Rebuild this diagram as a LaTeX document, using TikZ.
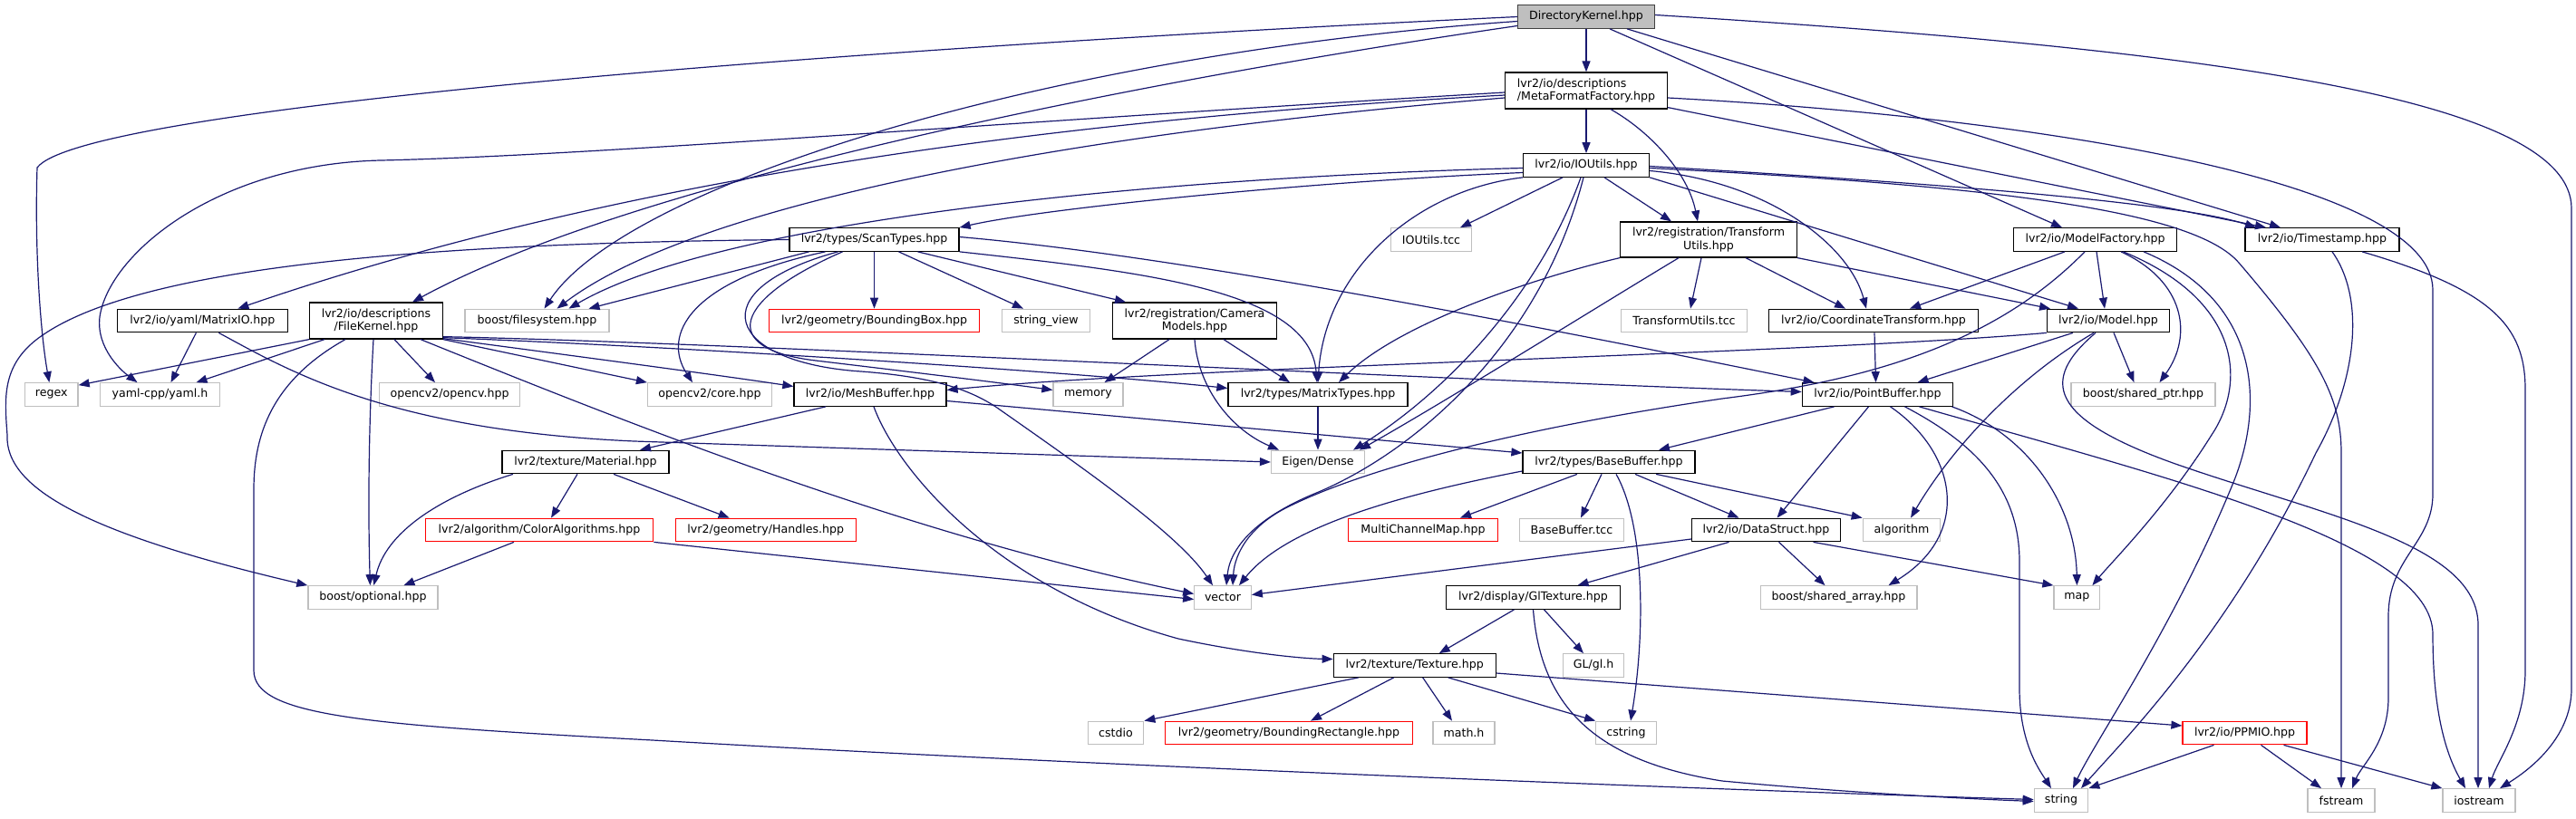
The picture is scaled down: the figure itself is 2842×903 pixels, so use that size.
\documentclass[tikz,border=0pt]{standalone}
\usepackage{fontspec}
\setmainfont{DejaVu Sans}
\usetikzlibrary{arrows.meta}
\definecolor{edgeblue}{HTML}{191970}
\definecolor{extgray}{HTML}{BFBFBF}
\definecolor{rootfill}{HTML}{BFBFBF}
\definecolor{rootline}{HTML}{404040}
\definecolor{missred}{HTML}{FF0000}
\tikzset{
  base/.style={rectangle, line width=1.25pt, inner sep=0pt, minimum height=25.5pt, align=center,
    font=\fontsize{12.6}{14.3}\selectfont, fill=white, text=black},
  blk/.style={base, draw=black},
  ext/.style={base, draw=extgray},
  missing/.style={base, draw=missred},
  root/.style={base, draw=rootline, fill=rootfill},
  two/.style={minimum height=40pt},
  conn/.style={draw=edgeblue, line width=1.2pt, -{Triangle[length=12pt,width=9pt]}}
}
\begin{document}
\begin{tikzpicture}[x=1pt,y=-1pt]
\useasboundingbox (0,0) rectangle (2842,903);
\fill[white] (0,0) rectangle (2842,903);
% row 0-3
\node[root, minimum width=151] (dk) at (1750,18.5) {DirectoryKernel.hpp};
\node[blk, two, minimum width=179, align=left] (mff) at (1750,100) {lvr2/io/descriptions\\/MetaFormatFactory.hpp};
\node[blk, minimum width=139] (iou) at (1750,182.5) {lvr2/io/IOUtils.hpp};
\node[blk, minimum width=187] (st) at (964.5,264.5) {lvr2/types/ScanTypes.hpp};
\node[ext, minimum width=89.5] (iotcc) at (1579,264.5) {IOUtils.tcc};
\node[blk, minimum width=195, minimum height=39] (tu) at (1885,264.5) {lvr2/registration/Transform\\Utils.hpp};
\node[blk, minimum width=180] (mf) at (2311.5,264.5) {lvr2/io/ModelFactory.hpp};
\node[blk, minimum width=170] (ts) at (2562,264.5) {lvr2/io/Timestamp.hpp};
% row 4
\node[blk, minimum width=188] (mio) at (223.4,354) {lvr2/io/yaml/MatrixIO.hpp};
\node[blk, two, minimum width=146.5] (fk) at (415,354) {lvr2/io/descriptions\\/FileKernel.hpp};
\node[ext, minimum width=159] (bfs) at (592.5,354) {boost/filesystem.hpp};
\node[missing, minimum width=232] (bbox) at (964.5,354) {lvr2/geometry/BoundingBox.hpp};
\node[ext, minimum width=97] (sv) at (1154,354) {string\_view};
\node[blk, two, minimum width=181] (cm) at (1318,354) {lvr2/registration/Camera\\Models.hpp};
\node[ext, minimum width=139.5] (tutcc) at (1858,354) {TransformUtils.tcc};
\node[blk, minimum width=231] (ct) at (2067,354) {lvr2/io/CoordinateTransform.hpp};
\node[blk, minimum width=135] (model) at (2326,354) {lvr2/io/Model.hpp};
% row 5
\node[ext, minimum width=58.5] (regex) at (56.8,435.5) {regex};
\node[ext, minimum width=131.7] (yaml) at (176.5,435.5) {yaml-cpp/yaml.h};
\node[ext, minimum width=154.5] (cv) at (496,435.5) {opencv2/opencv.hpp};
\node[ext, minimum width=137] (cvcore) at (783,435.5) {opencv2/core.hpp};
\node[blk, minimum width=168] (mb) at (960,435.5) {lvr2/io/MeshBuffer.hpp};
\node[ext, minimum width=77] (mem) at (1200.5,435.5) {memory};
\node[blk, minimum width=198] (mt) at (1454,435.5) {lvr2/types/MatrixTypes.hpp};
\node[blk, minimum width=166.4] (pb) at (2071.5,435.5) {lvr2/io/PointBuffer.hpp};
\node[ext, minimum width=159] (sp) at (2364.5,435.5) {boost/shared\_ptr.hpp};
% row 6
\node[blk, minimum width=184] (mat) at (646,510) {lvr2/texture/Material.hpp};
\node[ext, minimum width=103] (eigen) at (1454,510) {Eigen/Dense};
\node[blk, minimum width=190] (bb) at (1775,510) {lvr2/types/BaseBuffer.hpp};
% row 7
\node[missing, minimum width=251.5] (ca) at (595,585) {lvr2/algorithm/ColorAlgorithms.hpp};
\node[missing, minimum width=199] (ha) at (844.7,585) {lvr2/geometry/Handles.hpp};
\node[missing, minimum width=164.6] (mcm) at (1570,585) {MultiChannelMap.hpp};
\node[ext, minimum width=115] (bbtcc) at (1734,585) {BaseBuffer.tcc};
\node[blk, minimum width=164] (ds) at (1948.5,585) {lvr2/io/DataStruct.hpp};
\node[ext, minimum width=85.5] (alg) at (2098,585) {algorithm};
% row 8
\node[ext, minimum width=143] (bo) at (411.4,659.5) {boost/optional.hpp};
\node[ext, minimum width=62.5] (vec) at (1349,659.5) {vector};
\node[blk, minimum width=192] (gl) at (1691.5,659.5) {lvr2/display/GlTexture.hpp};
\node[ext, minimum width=172.7] (sa) at (2028.5,659.5) {boost/shared\_array.hpp};
\node[ext, minimum width=50.8] (map) at (2291.4,659.5) {map};
% row 9
\node[blk, minimum width=179] (tex) at (1560.7,734.5) {lvr2/texture/Texture.hpp};
\node[ext, minimum width=66.6] (glh) at (1758,734.5) {GL/gl.h};
% row 10
\node[ext, minimum width=61.5] (cstdio) at (1231,809) {cstdio};
\node[missing, minimum width=272.6] (br) at (1422,809) {lvr2/geometry/BoundingRectangle.hpp};
\node[ext, minimum width=68] (mh) at (1615,809) {math.h};
\node[ext, minimum width=66.6] (cs) at (1794,809) {cstring};
\node[missing, minimum width=137] (ppm) at (2476.5,809) {lvr2/io/PPMIO.hpp};
% row 11
\node[ext, minimum width=59.5] (str) at (2274,883.5) {string};
\node[ext, minimum width=74] (fs) at (2583,883.5) {fstream};
\node[ext, minimum width=80] (io) at (2735,883.5) {iostream};

% ---- edges from DirectoryKernel
\draw[conn] (dk) -- (mff);
\draw[conn] (dk.west) .. controls (900,55) and (90,120) .. (41,185) .. controls (38,280) and (45,370) .. (regex);
\draw[conn] ([yshift=-10]dk.west) .. controls (1250,90) and (700,200) .. ([xshift=40]fk.north);
\draw[conn] ([yshift=-5]dk.west) .. controls (1150,60) and (690,205) .. ([xshift=8]bfs.north);
\draw[conn] ([xshift=26]dk.south) -- ([xshift=-36.5]mf.north);
\draw[conn] ([xshift=45]dk.south) -- ([xshift=-46]ts.north);
\draw[conn] ([yshift=2]dk.east) .. controls (2450,55) and (2837,110) .. (2837,230) -- (2837,760) .. controls (2837,815) and (2790,850) .. ([xshift=23]io.north);
% ---- MetaFormatFactory
\draw[conn] ([yshift=-2]mff.west) .. controls (1100,135) and (650,172) .. (420,177) .. controls (240,181) and (120,280) .. (110,350) .. controls (106,385) and (135,410) .. ([xshift=-25]yaml.north);
\draw[conn] ([yshift=-5]mff.west) .. controls (1200,130) and (700,190) .. ([xshift=39]mio.north);
\draw[conn] ([yshift=-8]mff.west) .. controls (1150,150) and (760,230) .. ([xshift=22]bfs.north);
\draw[conn] (mff) -- (iou);
\draw[conn] ([xshift=27]mff.south) .. controls (1820,145) and (1862,190) .. ([xshift=-12]tu.north);
\draw[conn] ([yshift=2]mff.south east) -- ([xshift=-62]ts.north);
\draw[conn] ([yshift=-8]mff.east) .. controls (2250,130) and (2684,200) .. (2684,320) -- (2684,545) .. controls (2684,600) and (2635,615) .. (2635,680) -- (2635,770) .. controls (2635,820) and (2605,845) .. ([xshift=12]fs.north);
% ---- IOUtils
\draw[conn] ([yshift=-8]iou.west) .. controls (1450,200) and (1150,230) .. (st.north east);
\draw[conn] ([yshift=-3]iou.west) .. controls (1300,195) and (800,240) .. ([xshift=35]bfs.north);
\draw[conn] (iou.south west) .. controls (1560,210) and (1462,300) .. (mt.north);
\draw[conn] ([xshift=-26]iou.south) -- ([xshift=32]iotcc.north);
\draw[conn] ([xshift=-6]iou.south) .. controls (1700,320) and (1600,430) .. ([xshift=39]eigen.north);
\draw[conn] ([xshift=-3]iou.south) .. controls (1700,380) and (1560,500) .. (1450,545) .. controls (1385,572) and (1357,605) .. ([xshift=4]vec.north);
\draw[conn] ([xshift=20]iou.south) -- ([xshift=-41]tu.north);
\draw[conn] ([yshift=-6]iou.east) .. controls (1950,200) and (2040,270) .. ([xshift=-8]ct.north);
\draw[conn] (iou.south east) -- ([xshift=-33]model.north);
\draw[conn] ([yshift=-1]iou.east) .. controls (2100,200) and (2400,222) .. ([xshift=-73]ts.north);
\draw[conn] ([yshift=-3]iou.east) .. controls (2200,205) and (2420,232) .. (2470,290) .. controls (2560,395) and (2583,440) .. (2583,500) -- (fs.north);
% ---- ScanTypes
\draw[conn] (st.west) .. controls (500,268) and (150,290) .. (40,375) .. controls (2,405) and (5,440) .. (8,480) .. controls (5,540) and (100,590) .. (bo.north west);
\draw[conn] ([xshift=-72]st.south) -- ([xshift=57]bfs.north);
\draw[conn] ([xshift=-54]st.south) .. controls (760,310) and (730,370) .. ([xshift=-19]cvcore.north);
\draw[conn] ([xshift=-35]st.south) .. controls (810,330) and (790,385) .. (900,398) .. controls (1000,410) and (1100,422) .. ([yshift=5]mem.west);
\draw[conn] ([xshift=-40]st.south) .. controls (770,320) and (800,400) .. (950,410) .. controls (1030,416) and (1070,430) .. (1100,450) .. controls (1200,520) and (1300,590) .. ([xshift=-11]vec.north);
\draw[conn] (st) -- (bbox);
\draw[conn] ([xshift=27]st.south) -- ([xshift=-25]sv.north);
\draw[conn] ([xshift=48]st.south) -- ([xshift=-76]cm.north);
\draw[conn] (st.south east) .. controls (1260,300) and (1445,320) .. ([xshift=-1]mt.north);
\draw[conn] ([yshift=3]st.east) .. controls (1250,278) and (1550,330) .. ([xshift=-70]pb.north);
% ---- TransformUtils
\draw[conn] (tu.south west) .. controls (1680,310) and (1540,360) .. ([xshift=23]mt.north);
\draw[conn] ([xshift=-33]tu.south) .. controls (1760,340) and (1600,440) .. ([xshift=46]eigen.north);
\draw[conn] ([xshift=-8]tu.south) -- ([xshift=7]tutcc.north);
\draw[conn] ([xshift=41]tu.south) -- ([xshift=-31]ct.north);
\draw[conn] (tu.south east) -- ([xshift=-64]model.north);
% ---- ModelFactory
\draw[conn] ([xshift=-33.5]mf.south) -- ([xshift=40]ct.north);
\draw[conn] ([xshift=1.5]mf.south) -- ([xshift=-4]model.north);
\draw[conn] ([xshift=-11.5]mf.south) .. controls (2200,380) and (2060,420) .. (1900,440) .. controls (1660,475) and (1500,520) .. (1420,560) .. controls (1380,580) and (1362,610) .. ([xshift=11]vec.north);
\draw[conn] ([xshift=28.5]mf.south) .. controls (2410,310) and (2420,370) .. ([xshift=18]sp.north);
\draw[conn] ([xshift=31]mf.south) .. controls (2470,330) and (2480,420) .. (2440,480) .. controls (2390,560) and (2330,620) .. ([xshift=17]map.north);
\draw[conn] ([xshift=53.5]mf.south) .. controls (2490,330) and (2500,440) .. (2465,530) .. controls (2400,690) and (2310,820) .. ([xshift=13]str.north);
% ---- Timestamp
\draw[conn] ([xshift=11]ts.south) .. controls (2610,330) and (2600,420) .. (2555,500) .. controls (2460,700) and (2340,820) .. ([xshift=22]str.north);
\draw[conn] ([xshift=44]ts.south) .. controls (2750,320) and (2786,360) .. (2786,430) -- (2786,740) .. controls (2786,800) and (2755,840) .. ([xshift=11]io.north);
% ---- MatrixIO
\draw[conn] ([xshift=-7]mio.south) -- ([xshift=12]yaml.north);
\draw[conn] ([xshift=18]mio.south) .. controls (320,410) and (430,475) .. (700,487) .. controls (1000,497) and (1250,505) .. (eigen.west);
% ---- FileKernel
\draw[conn] (fk.south west) -- ([yshift=-3]regex.north east);
\draw[conn] ([xshift=-57]fk.south) -- ([xshift=40]yaml.north);
\draw[conn] ([xshift=20]fk.south) -- ([xshift=-16]cv.north);
\draw[conn] ([xshift=-3]fk.south) .. controls (405,500) and (407,600) .. ([xshift=-3]bo.north);
\draw[conn] ([xshift=49]fk.south) .. controls (700,470) and (1000,590) .. ([yshift=4]vec.west);
\draw[conn] ([xshift=-34]fk.south) .. controls (300,420) and (280,480) .. (280,540) -- (280,740) .. controls (280,790) and (400,800) .. (720,817) .. controls (1200,845) and (1900,872) .. ([yshift=1]str.west);
\draw[conn] (fk.south east) -- (cvcore.north west);
\draw[conn] ([yshift=1]fk.south east) .. controls (650,395) and (800,415) .. ([yshift=9]mb.west);
\draw[conn] ([yshift=2]fk.south east) .. controls (800,385) and (1200,412) .. ([yshift=7]mt.west);
\draw[conn] ([yshift=3]fk.south east) .. controls (800,378) and (1600,420) .. ([yshift=3]pb.west);
% ---- CameraModels
\draw[conn] ([xshift=-28]cm.south) -- ([xshift=18]mem.north);
\draw[conn] (cm.south) .. controls (1322,430) and (1360,475) .. ([xshift=-43]eigen.north);
\draw[conn] ([xshift=32]cm.south) -- ([xshift=-31]mt.north);
% ---- CoordinateTransform, Model
\draw[conn] ([xshift=1]ct.south) -- ([xshift=-2]pb.north);
\draw[conn] (model.south west) .. controls (2000,390) and (1300,405) .. ([yshift=5]mb.east);
\draw[conn] ([xshift=-39]model.south) -- ([xshift=44]pb.north);
\draw[conn] ([xshift=-16]model.south) .. controls (2220,420) and (2150,500) .. ([xshift=10]alg.north);
\draw[conn] ([xshift=-14]model.south) .. controls (2250,420) and (2260,462) .. (2400,512) .. controls (2560,568) and (2734,600) .. (2734,690) -- ([xshift=-1]io.north);
\draw[conn] ([xshift=6]model.south) -- ([xshift=-10]sp.north);
% ---- MeshBuffer
\draw[conn] ([xshift=-49]mb.south) -- ([xshift=60]mat.north);
\draw[conn] ([xshift=4]mb.south) .. controls (990,520) and (1100,650) .. (1300,705) .. controls (1380,722) and (1440,727) .. ([yshift=7]tex.west);
\draw[conn] ([yshift=-7]mb.east) -- ([yshift=10]bb.west);
% ---- PointBuffer
\draw[conn] ([xshift=-48]pb.south) -- ([xshift=55]bb.north);
\draw[conn] ([xshift=-10]pb.south) -- ([xshift=12]ds.north);
\draw[conn] ([xshift=14]pb.south) .. controls (2160,500) and (2175,590) .. ([xshift=55]sa.north);
\draw[conn] ([xshift=30]pb.south) .. controls (2180,490) and (2228,540) .. (2228,620) -- (2228,760) .. controls (2228,820) and (2250,850) .. ([xshift=-11]str.north);
\draw[conn] ([xshift=82]pb.south) .. controls (2240,480) and (2290,560) .. (map.north);
\draw[conn] ([xshift=46]pb.south) .. controls (2400,530) and (2684,600) .. (2684,700) .. controls (2684,790) and (2700,835) .. ([xshift=-15]io.north);
% ---- MatrixTypes, Material, ColorAlgorithms
\draw[conn] (mt) -- (eigen);
\draw[conn] ([xshift=-80]mat.south) .. controls (480,550) and (425,590) .. ([xshift=1]bo.north);
\draw[conn] ([xshift=-9]mat.south) -- ([xshift=13]ca.north);
\draw[conn] ([xshift=31]mat.south) -- ([xshift=-40]ha.north);
\draw[conn] ([xshift=-28]ca.south) -- ([xshift=34]bo.north);
\draw[conn] (ca.south east) -- ([yshift=-2]vec.west);
% ---- BaseBuffer
\draw[conn] ([xshift=-35]bb.south) -- ([xshift=41]mcm.north);
\draw[conn] ([xshift=-8]bb.south) -- ([xshift=10]bbtcc.north);
\draw[conn] ([xshift=8]bb.south) .. controls (1815,580) and (1815,700) .. ([xshift=5]cs.north);
\draw[conn] ([xshift=29]bb.south) -- ([xshift=-30]ds.north);
\draw[conn] ([xshift=52]bb.south) -- (alg.north west);
\draw[conn] ([yshift=-10]bb.west) .. controls (1550,545) and (1420,580) .. ([xshift=18]vec.north);
% ---- DataStruct
\draw[conn] ([yshift=-10]ds.west) -- ([yshift=3]vec.east);
\draw[conn] ([xshift=-41]ds.south) -- ([xshift=49]gl.north);
\draw[conn] ([xshift=14]ds.south) -- ([xshift=-15]sa.north);
\draw[conn] ([xshift=52]ds.south) -- (map.north west);
% ---- GlTexture
\draw[conn] ([xshift=-21]gl.south) -- ([xshift=27]tex.north);
\draw[conn] ([xshift=12]gl.south) -- ([xshift=-11]glh.north);
\draw[conn] (gl.south) .. controls (1700,780) and (1760,840) .. (1900,862) .. controls (2050,876) and (2180,882) .. ([yshift=-1]str.west);
% ---- Texture
\draw[conn] ([xshift=-62]tex.south) -- (cstdio.north east);
\draw[conn] ([xshift=-23]tex.south) -- ([xshift=24]br.north);
\draw[conn] ([xshift=9]tex.south) -- ([xshift=-13]mh.north);
\draw[conn] ([xshift=37]tex.south) -- (cs.north west);
\draw[conn] ([yshift=-8.5]tex.east) -- ([yshift=8]ppm.west);
% ---- PPMIO
\draw[conn] ([xshift=-34]ppm.south) -- (str.north east);
\draw[conn] ([xshift=18]ppm.south) -- ([xshift=-22]fs.north);
\draw[conn] ([xshift=43]ppm.south) -- (io.north west);
\end{tikzpicture}
\end{document}
